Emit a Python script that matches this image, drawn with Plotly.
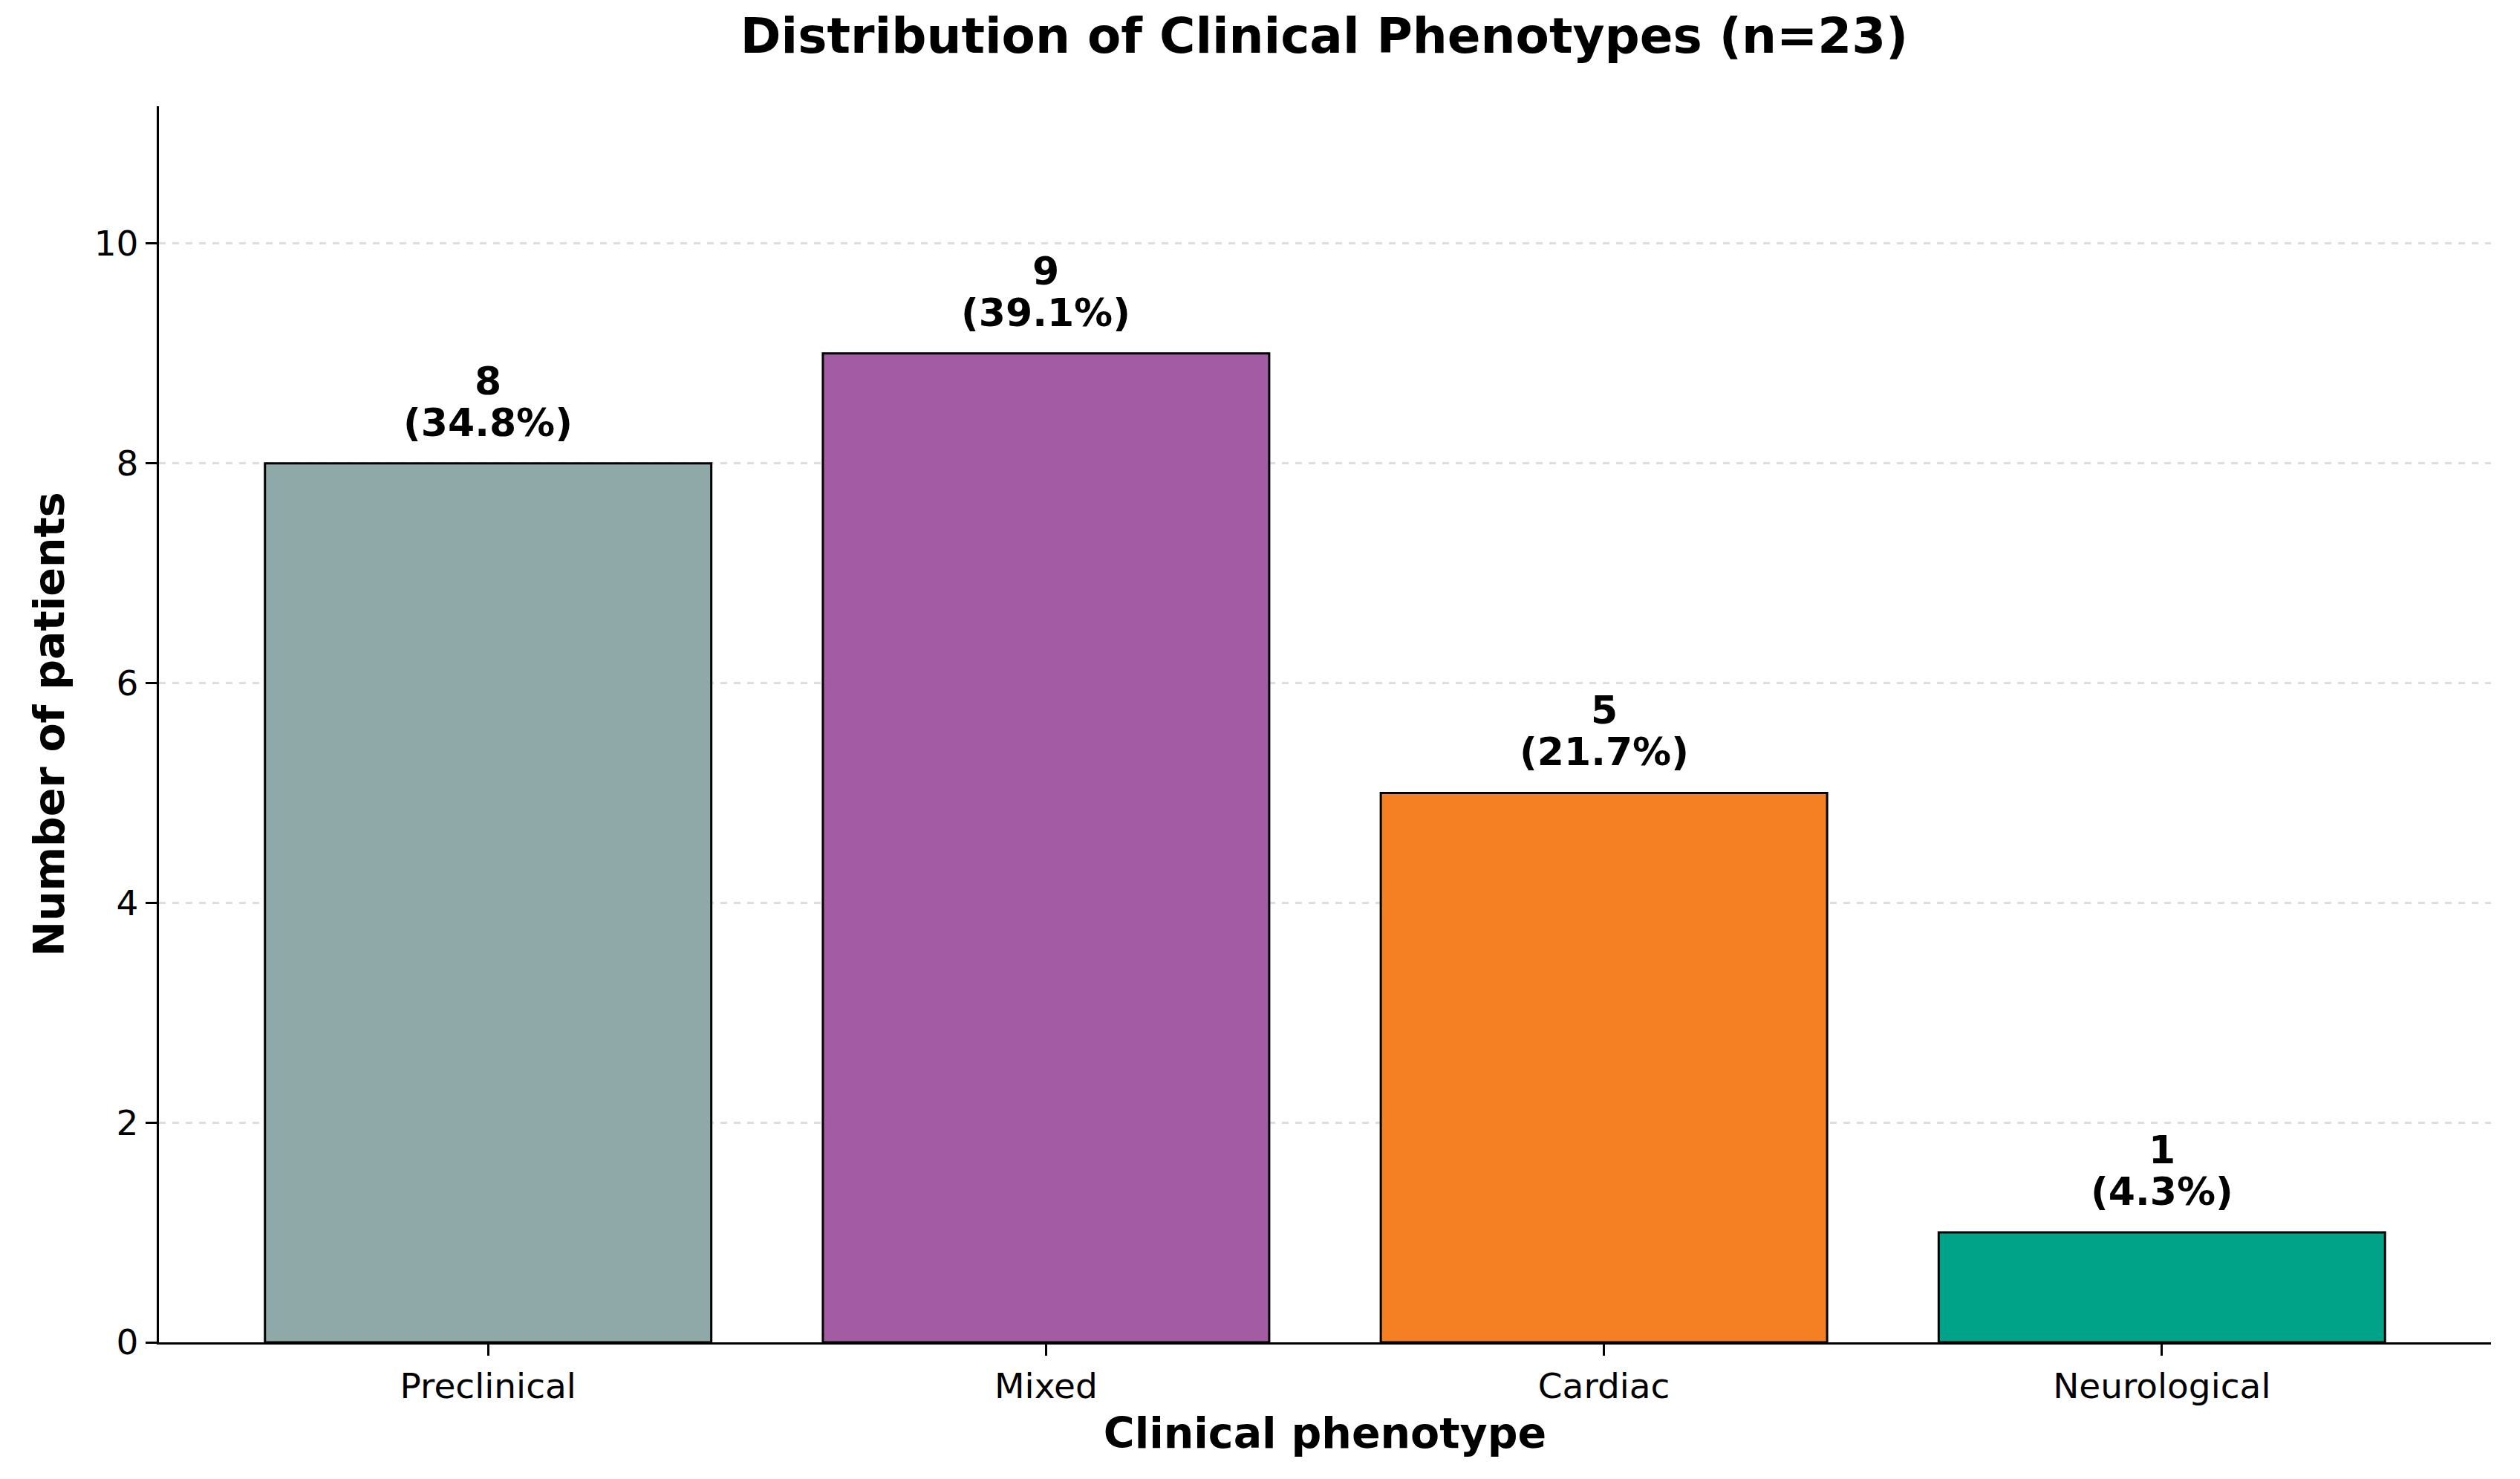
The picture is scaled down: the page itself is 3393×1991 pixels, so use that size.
import plotly.graph_objects as go

categories = ["Preclinical", "Mixed", "Cardiac", "Neurological"]
counts = [8, 9, 5, 1]
percents = [34.8, 39.1, 21.7, 4.3]
colors = ["#8FA8A8", "#A35BA4", "#F58024", "#00A388"]
total_n = 23

W, H = 3393, 1991
FONT = "DejaVu Sans"

fig = go.Figure()
fig.add_trace(go.Bar(
    x=list(range(len(categories))),
    y=counts,
    width=0.8,
    marker=dict(color=colors, line=dict(color="#000000", width=3)),
    hoverinfo="skip",
))

for i, (c, p) in enumerate(zip(counts, percents)):
    fig.add_annotation(
        x=i, y=c, xref="x", yref="y",
        text=f"<b>({p:.1f}%)</b>",
        showarrow=False, yanchor="middle", yshift=55,
        font=dict(family=FONT, size=52, color="#000000"),
    )
    fig.add_annotation(
        x=i, y=c, xref="x", yref="y",
        text=f"<b>{c}</b>",
        showarrow=False, yanchor="middle", yshift=111,
        font=dict(family=FONT, size=52, color="#000000"),
    )

fig.update_layout(
    width=W, height=H,
    margin=dict(l=214, r=39, t=143, b=184, autoexpand=False),
    paper_bgcolor="white", plot_bgcolor="white",
    showlegend=False,
    font=dict(family=FONT, color="#000000"),
    title=dict(
        text=f"<b>Distribution of Clinical Phenotypes (n={total_n})</b>",
        x=0.5255, xanchor="center", y=1 - 48 / H, yanchor="middle",
        yref="container",
        font=dict(family=FONT, size=66, color="#000000"),
    ),
)

fig.update_xaxes(
    range=[-0.59, 3.59],
    tickmode="array", tickvals=list(range(len(categories))), ticktext=categories,
    showline=True, linecolor="#000000", linewidth=3.3,
    ticks="outside", ticklen=15, tickwidth=3, tickcolor="#000000",
    tickfont=dict(family=FONT, size=47, color="#000000"),
    showgrid=False, zeroline=False,
    title=dict(text="<b>Clinical phenotype</b>", font=dict(family=FONT, size=57, color="#000000"), standoff=18),
    automargin=False,
)

fig.update_yaxes(
    range=[0, 11.25],
    tickmode="array", tickvals=[0, 2, 4, 6, 8, 10],
    showline=True, linecolor="#000000", linewidth=3.3,
    ticks="outside", ticklen=15, tickwidth=3, tickcolor="#000000",
    tickfont=dict(family=FONT, size=47, color="#000000"),
    showgrid=True, gridcolor="#DDDDDD", gridwidth=2.5, griddash="dash",
    zeroline=False,
    title=dict(text="<b>Number of patients</b>", font=dict(family=FONT, size=57, color="#000000"), standoff=22),
    automargin=False,
)

fig.write_html("out.html")
